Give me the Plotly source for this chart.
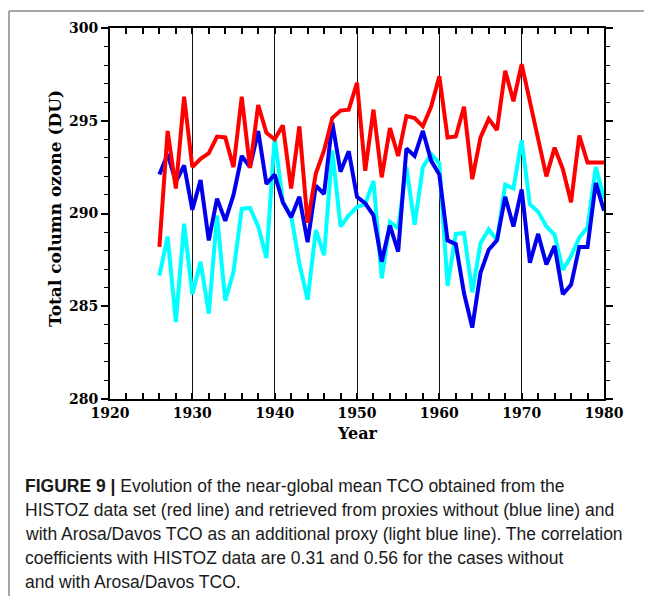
import plotly.graph_objects as go

years = list(range(1926, 1981))

histoz = [288.2, 294.45, 291.35, 296.3, 292.5, 292.95, 293.25, 294.15, 294.1, 292.5,
          296.3, 292.45, 295.85, 294.35, 294.0, 294.75, 291.35, 294.7, 289.5, 292.15,
          293.4, 295.15, 295.55, 295.6, 297.05, 292.3, 295.6, 291.95, 294.6, 293.1,
          295.25, 295.15, 294.7, 295.75, 297.4, 294.1, 294.15, 295.75, 291.85, 294.1,
          295.1, 294.5, 297.7, 296.05, 298.05, 296.0, 294.05, 292.0, 293.55, 292.4,
          290.6, 294.2, 292.75, 292.75, 292.75]

without_arosa = [292.1, 293.2, 291.7, 292.6, 290.2, 291.8, 288.55, 290.8, 289.6, 291.0,
                 293.1, 292.5, 294.45, 291.6, 292.1, 290.6, 289.8, 290.9, 288.45, 291.5,
                 291.05, 294.9, 292.25, 293.35, 290.9, 290.55, 289.9, 287.4, 289.35, 287.95,
                 293.5, 293.1, 294.45, 292.85, 292.1, 288.55, 288.35, 285.7, 283.85, 286.8,
                 288.05, 288.55, 290.9, 289.3, 291.3, 287.35, 288.9, 287.25, 288.25, 285.65,
                 286.15, 288.2, 288.2, 291.65, 290.15]

with_arosa = [286.65, 288.75, 284.15, 289.45, 285.65, 287.4, 284.6, 289.9, 285.3, 286.85,
              290.25, 290.3, 289.3, 287.6, 294.1, 290.6, 289.9, 287.3, 285.35, 289.1,
              287.75, 293.4, 289.3, 289.9, 290.35, 290.5, 291.75, 286.5, 289.55, 289.2,
              292.5, 289.4, 292.5, 293.2, 292.7, 286.1, 288.9, 288.95, 285.75, 288.4,
              289.15, 288.55, 291.55, 291.35, 293.95, 290.5, 290.1, 289.3, 288.85, 286.95,
              287.7, 288.7, 289.25, 292.5, 290.8]

x_ticks = [1920, 1930, 1940, 1950, 1960, 1970, 1980]
y_ticks = [280, 285, 290, 295, 300]

caption_lines = [
    "<b>FIGURE 9 |</b> Evolution of the near-global mean TCO obtained from the",
    "HISTOZ data set (red line) and retrieved from proxies without (blue line) and",
    "with Arosa/Davos TCO as an additional proxy (light blue line). The correlation",
    "coefficients with HISTOZ data are 0.31 and 0.56 for the cases without",
    "and with Arosa/Davos TCO.",
]

OFF = 8  # page body margin
W, H = 636, 588
# plot area in page pixels
PL, PR, PT, PB = 110, 604, 26, 399
L, R, T, B = PL - OFF, PR - OFF, PT - OFF, PB - OFF


def py(ypage):
    return (PB - ypage) / (PB - PT)


def px(xpage):
    return (xpage - PL) / (PR - PL)


fig = go.Figure()
fig.add_trace(go.Scatter(x=years, y=with_arosa, mode="lines",
                         line=dict(color="#00ffff", width=4), name="with Arosa/Davos"))
fig.add_trace(go.Scatter(x=years, y=without_arosa, mode="lines",
                         line=dict(color="#0000ee", width=4), name="without"))
fig.add_trace(go.Scatter(x=years, y=histoz, mode="lines",
                         line=dict(color="#ff0000", width=4), name="HISTOZ"))

tickfont = dict(family="DejaVu Serif", size=14, color="black", weight="bold")

fig.update_layout(
    width=W, height=H,
    margin=dict(l=L, r=W - R, t=T, b=H - B, pad=0),
    paper_bgcolor="white", plot_bgcolor="white",
    showlegend=False,
    xaxis=dict(range=[1920, 1980], tickvals=x_ticks, ticktext=[str(v) for v in x_ticks],
               showgrid=True, gridcolor="#111111", gridwidth=1,
               showline=True, linecolor="black", linewidth=2, mirror="ticks",
               ticks="inside", ticklen=6, tickwidth=1.5, tickcolor="black",
               minor=dict(dtick=2, tick0=1920, ticks="inside", ticklen=6,
                          tickwidth=1.5, tickcolor="black", showgrid=False),
               tickfont=tickfont, zeroline=False, fixedrange=True),
    yaxis=dict(range=[280, 300], tickvals=y_ticks, ticktext=[str(v) for v in y_ticks],
               showgrid=False,
               showline=True, linecolor="black", linewidth=2, mirror="ticks",
               ticks="outside", ticklen=7, tickwidth=1.5, tickcolor="black",
               minor=dict(dtick=1, tick0=280, ticks="outside", ticklen=4,
                          tickwidth=1, tickcolor="black", showgrid=False),
               tickfont=tickfont, zeroline=False, fixedrange=True),
)

annotations = [
    dict(text="<b>Year</b>", xref="paper", yref="paper", x=px(357), y=py(434),
         xanchor="center", yanchor="middle", showarrow=False,
         font=dict(family="DejaVu Serif", size=16, color="black")),
    dict(text="<b>Total column ozone (DU)</b>", xref="paper", yref="paper",
         x=px(55), y=py(208), xanchor="center", yanchor="middle", showarrow=False,
         textangle=-90, font=dict(family="DejaVu Serif", size=17, color="black")),
]
for i, line in enumerate(caption_lines):
    annotations.append(dict(text=line, xref="paper", yref="paper",
                            x=px(23), y=py(486 + 24.3 * i), xanchor="left", yanchor="middle",
                            showarrow=False, align="left",
                            font=dict(family="Liberation Sans", size=17.5, color="#1a1a1a")))
fig.update_layout(annotations=annotations)

# figure frame (top and left edges)
fig.add_shape(type="line", xref="paper", yref="paper", x0=px(9), x1=px(700),
              y0=py(9), y1=py(9), line=dict(color="#888888", width=1.5))
fig.add_shape(type="line", xref="paper", yref="paper", x0=px(9), x1=px(9),
              y0=py(9), y1=py(700), line=dict(color="#888888", width=1.5))

fig.write_html("out.html")
